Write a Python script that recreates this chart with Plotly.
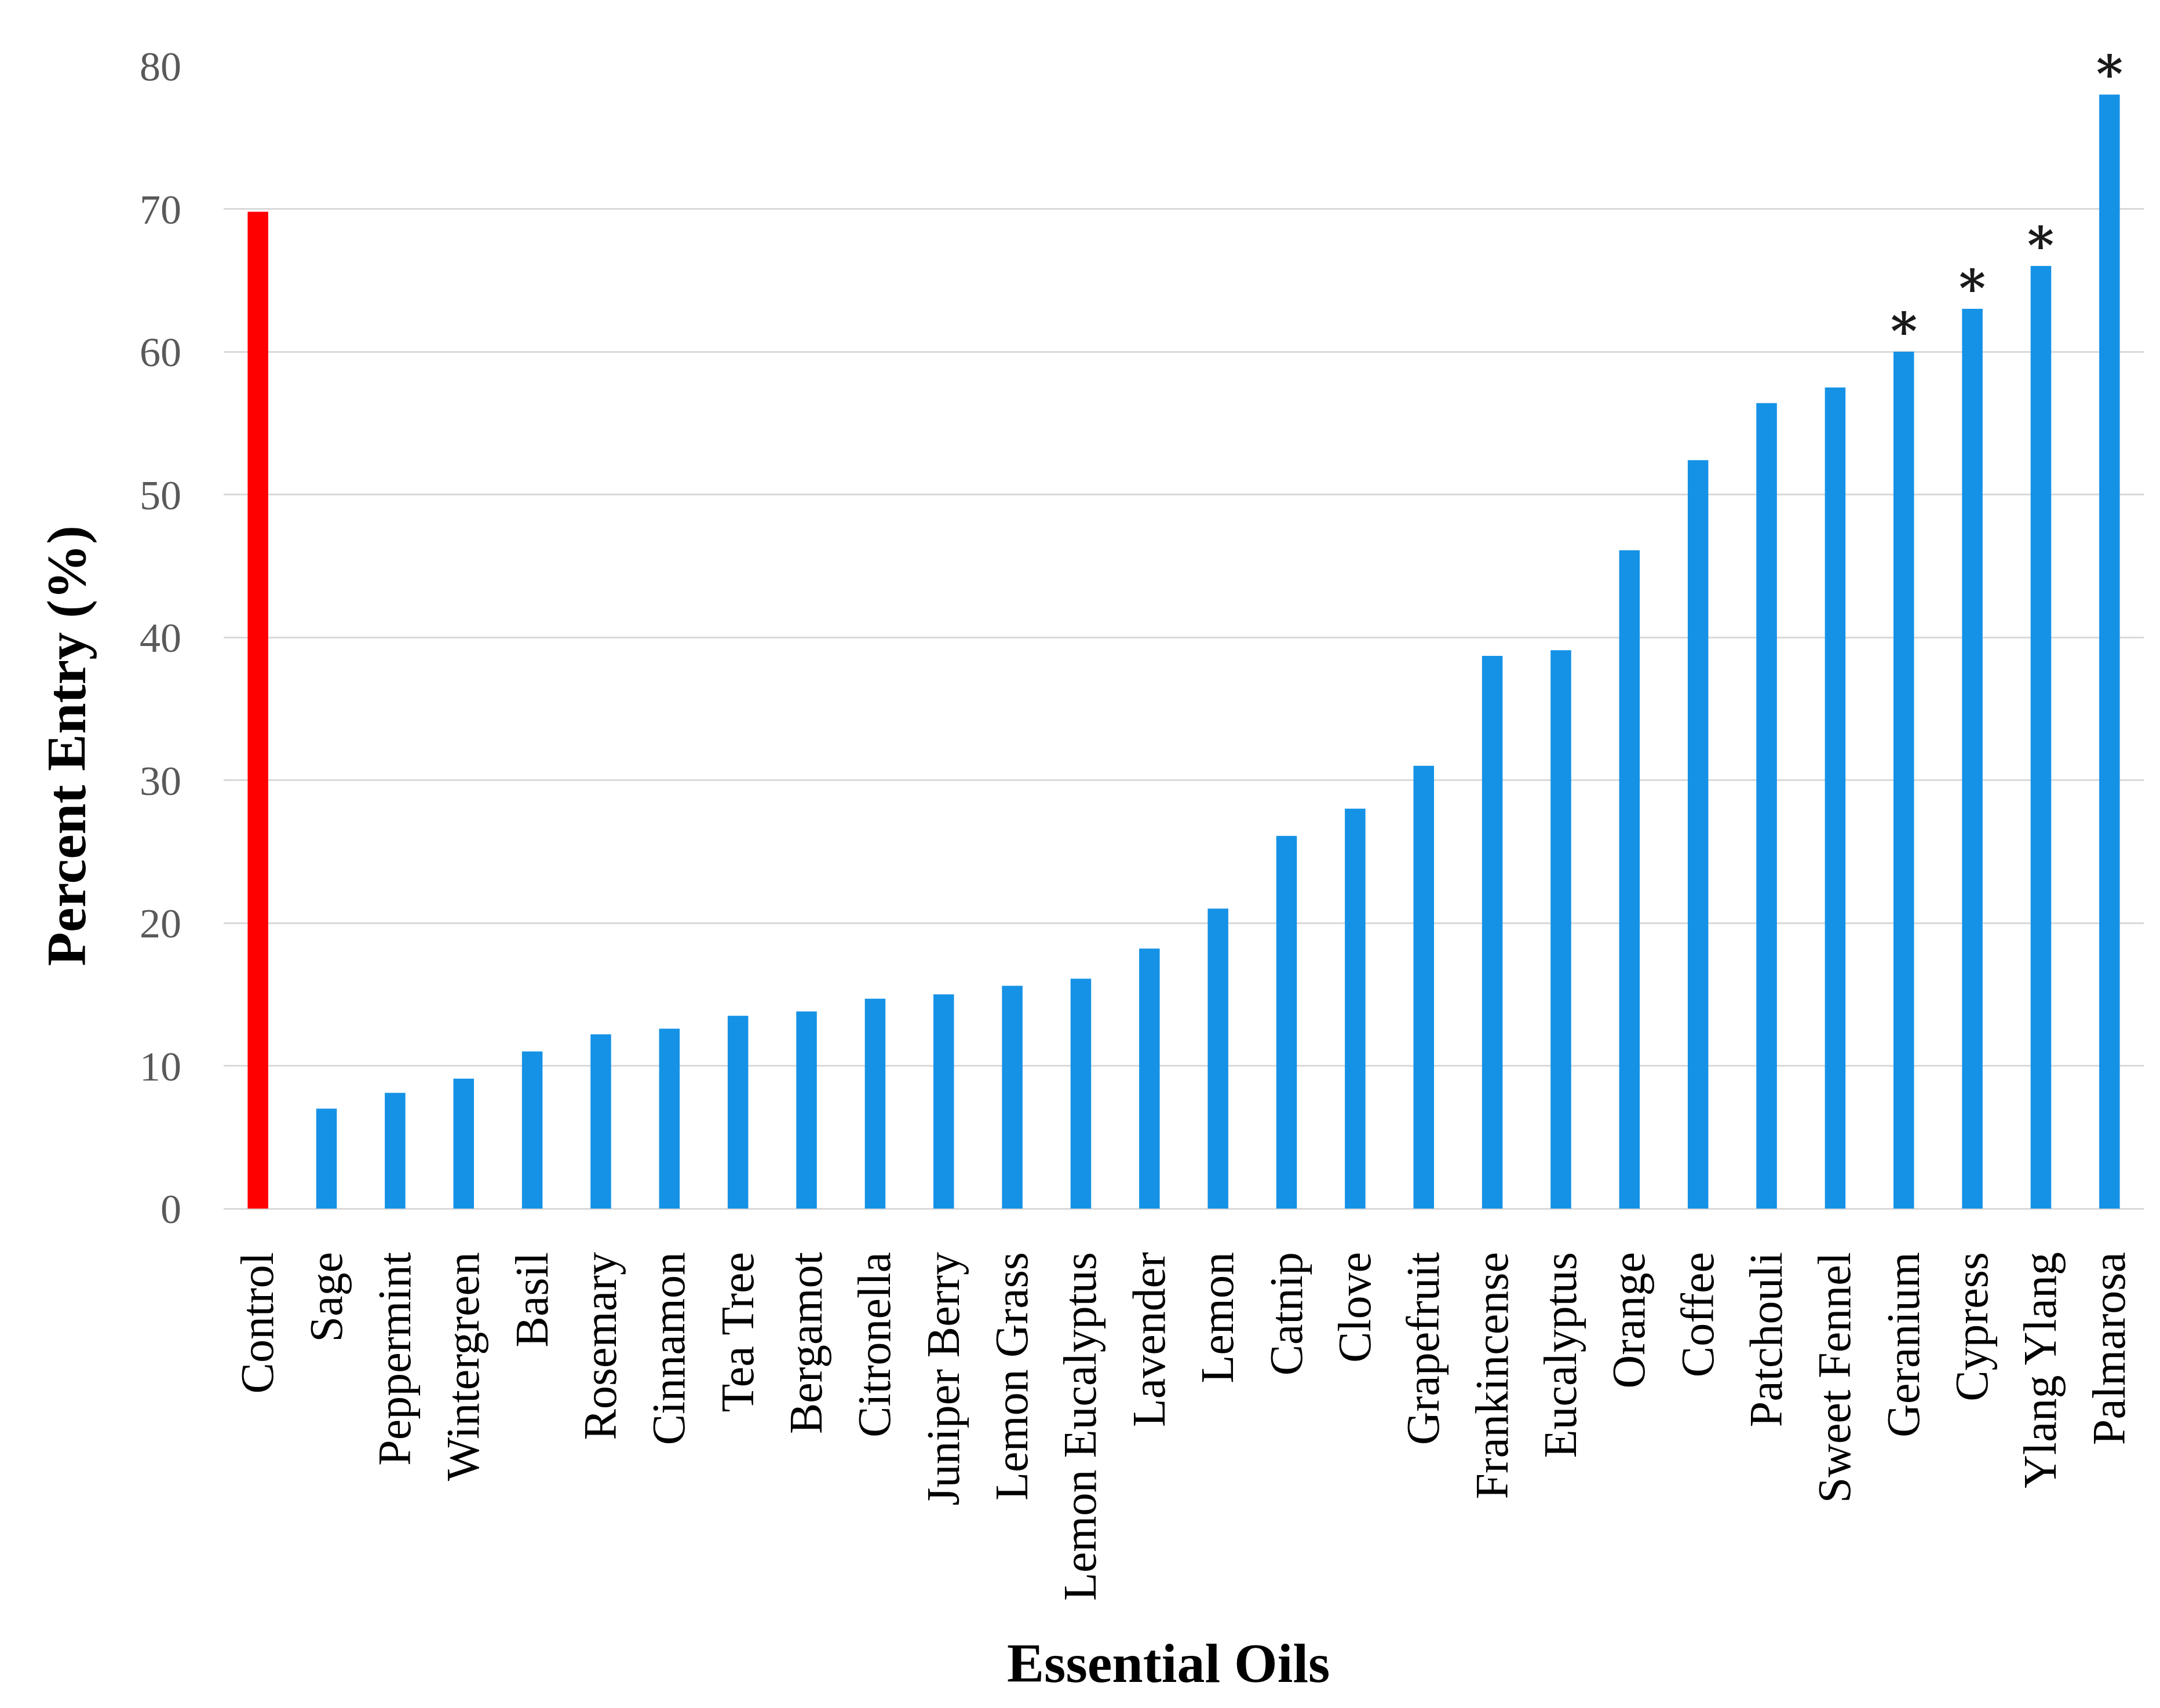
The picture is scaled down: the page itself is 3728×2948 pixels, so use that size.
import plotly.graph_objects as go

oils = ["Control", "Sage", "Peppermint", "Wintergreen", "Basil", "Rosemary", "Cinnamon",
        "Tea Tree", "Bergamot", "Citronella", "Juniper Berry", "Lemon Grass",
        "Lemon Eucalyptus", "Lavender", "Lemon", "Catnip", "Clove", "Grapefruit",
        "Frankincense", "Eucalyptus", "Orange", "Coffee", "Patchouli", "Sweet Fennel",
        "Geranium", "Cypress", "Ylang Ylang", "Palmarosa"]
percent_entry = [69.8, 7.0, 8.1, 9.1, 11.0, 12.2, 12.6, 13.5, 13.8, 14.7, 15.0, 15.6,
                 16.1, 18.2, 21.0, 26.1, 28.0, 31.0, 38.7, 39.1, 46.1, 52.4, 56.4, 57.5,
                 60.0, 63.0, 66.0, 78.0]
significance = [""] * 24 + ["*", "*", "*", "*"]
y_ticks = [0, 10, 20, 30, 40, 50, 60, 70, 80]

colors = ["#FF0000"] + ["#1592E6"] * (len(oils) - 1)

fig = go.Figure(go.Bar(
    x=oils, y=percent_entry, marker=dict(color=colors, line=dict(width=0)),
    width=0.3, cliponaxis=False,
))

for oil, val, star in zip(oils, percent_entry, significance):
    if star:
        fig.add_annotation(
            x=oil, y=val, text="<b>" + star + "</b>", showarrow=False,
            xanchor="center", yanchor="middle",
            yshift=36, font=dict(family="DejaVu Serif", size=88, color="#1a1a1a"),
        )

fig.update_layout(
    width=3728, height=2948,
    margin=dict(l=378, r=36, t=106, b=870),
    plot_bgcolor="white", paper_bgcolor="white",
    showlegend=False,
    font=dict(family="Liberation Serif"),
)
fig.update_xaxes(
    tickangle=-90, tickfont=dict(family="Liberation Serif", size=80, color="#000000"),
    showgrid=False, showline=False, ticklabelstandoff=58,
)
fig.update_yaxes(
    range=[0, 80], tickvals=y_ticks, showgrid=True, gridcolor="#D9D9D9", gridwidth=3,
    zeroline=True, zerolinecolor="#D9D9D9", zerolinewidth=3,
    tickfont=dict(family="Liberation Serif", size=72, color="#595959"),
    ticklabelstandoff=72, showline=False,
)
fig.add_annotation(
    text="<b>Percent Entry (%)</b>", xref="paper", yref="paper",
    x=-0.082, y=0.405, textangle=-90, showarrow=False,
    xanchor="center", yanchor="middle",
    font=dict(family="Liberation Serif", size=96, color="#000000"),
)
fig.add_annotation(
    text="<b>Essential Oils</b>", xref="paper", yref="paper",
    x=0.492, y=-0.398, showarrow=False,
    xanchor="center", yanchor="middle",
    font=dict(family="Liberation Serif", size=96, color="#000000"),
)

fig.write_html("out.html")
